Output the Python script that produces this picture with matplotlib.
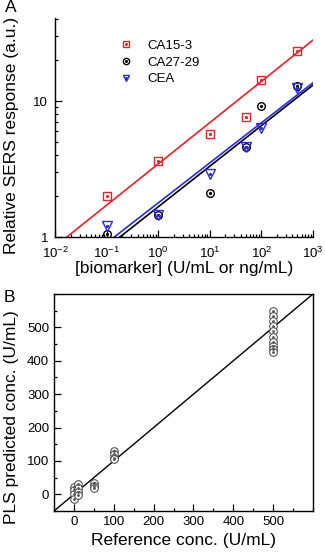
import numpy as np
import matplotlib
matplotlib.use("Agg")
import matplotlib.pyplot as plt
from matplotlib.ticker import LogLocator, MultipleLocator, NullFormatter
from matplotlib.lines import Line2D

plt.rcParams['font.family'] = ['Liberation Sans', 'DejaVu Sans']
plt.rcParams['mathtext.default'] = 'regular'

# ---- Panel A data ----
conc = [0.1, 1, 10, 50, 100, 500]
ca153 = [2.0, 3.62, 5.75, 7.67, 14.3, 23.3]
ca2729 = [1.05, 1.44, 2.1, 4.6, 9.2, 13.0]
cea = [1.21, 1.44, 2.92, 4.6, 6.36, 12.6]
# power-law fits: log10(y) = a + b*log10(x)
fit_ca153 = (0.538, 0.304)
fit_ca2729 = (0.222, 0.299)
fit_cea = (0.251, 0.295)
series_names = ['CA15-3', 'CA27-29', 'CEA']

# ---- Panel B data ----
ref_0 = [0, 0, 0, 0]
pred_0 = [23, 13, 0, -13]
ref_10 = [10, 10, 10, 10]
pred_10 = [30, 20, 8, -3]
ref_50 = [50, 50, 50]
pred_50 = [35, 25, 20]
ref_100 = [100, 100, 100, 100]
pred_100 = [130, 120, 108, 105]
ref_500 = [500] * 10
pred_500 = [548, 533, 518, 503, 488, 472, 457, 445, 435, 425]

red = '#e8202a'
blue = '#2a2ae0'
black = '#000000'

fig = plt.figure(figsize=(3.25, 5.56), dpi=100)

# ---------- Panel A ----------
axA = fig.add_axes([55/325, 1-237/556, 258/325, 219/556])
xs = np.logspace(-2, 3, 200)
colors = [red, black, blue]
markers = ['s', 'o', 'v']
datas = [ca153, ca2729, cea]
fits = [fit_ca153, fit_ca2729, fit_cea]
for c, f in zip(colors, fits):
    axA.plot(xs, 10**(f[0] + f[1]*np.log10(xs)), color=c, lw=1.2, zorder=2)
for c, m, d in zip(colors, markers, datas):
    axA.plot(conc, d, ls='none', marker=m, ms=5.5 if m != 'v' else 6.5, mfc='none',
             mec=c, mew=1.0, zorder=3)
    axA.plot(conc, d, ls='none', marker='o', ms=1.3, mfc=c, mec=c, zorder=4)

axA.set_xscale('log')
axA.set_yscale('log')
axA.set_xlim(1e-2, 1e3)
axA.set_ylim(1, 41)
axA.spines['top'].set_visible(False)
axA.spines['right'].set_visible(False)
axA.xaxis.set_major_locator(LogLocator(base=10, numticks=10))
axA.xaxis.set_minor_locator(LogLocator(base=10, subs=np.arange(2, 10), numticks=20))
axA.xaxis.set_minor_formatter(NullFormatter())
axA.set_yticks([1, 10])
axA.set_yticklabels(['1', '10'])
axA.yaxis.set_minor_locator(LogLocator(base=10, subs=np.arange(2, 10), numticks=20))
axA.yaxis.set_minor_formatter(NullFormatter())
axA.tick_params(which='both', direction='in', labelsize=9.5, width=0.9)
axA.tick_params(which='major', length=5)
axA.tick_params(which='minor', length=2.5)
axA.tick_params(axis='x', which='major', pad=6)
axA.tick_params(axis='y', which='major', pad=5)
axA.set_xlabel('[biomarker] (U/mL or ng/mL)', fontsize=12.5, labelpad=0)
axA.set_ylabel('Relative SERS response (a.u.)', fontsize=12.5)
axA.yaxis.set_label_coords(-0.14, 0.466)

handles = []
for c, m in zip(colors, markers):
    handles.append((Line2D([], [], ls='none', marker=m, ms=4.5, mfc='none', mec=c, mew=1.0),
                    Line2D([], [], ls='none', marker='o', ms=1.2, mfc=c, mec=c)))
axA.legend(handles, series_names, loc='upper left', bbox_to_anchor=(0.2, 0.955),
           frameon=False, fontsize=9.5, handletextpad=1.0, labelspacing=0.33,
           handlelength=1.2)
fig.text(11/325, 1-8/556, 'A', fontsize=12.5, ha='center', va='center')

# ---------- Panel B ----------
axB = fig.add_axes([54/325, 1-511/556, 259/325, 217/556])
axB.plot([-50, 600], [-50, 600], color='black', lw=1.0, zorder=2)
grey = '#555555'
for rx, py in [(ref_0, pred_0), (ref_10, pred_10), (ref_50, pred_50),
               (ref_100, pred_100), (ref_500, pred_500)]:
    axB.plot(rx, py, ls='none', marker='o', ms=5.5, mfc='white', mec=grey, mew=0.8, zorder=3)
    axB.plot(rx, py, ls='none', marker='o', ms=1.0, mfc=grey, mec=grey, zorder=4)
axB.set_xlim(-50, 600)
axB.set_ylim(-50, 600)
axB.xaxis.set_minor_locator(MultipleLocator(50))
axB.yaxis.set_minor_locator(MultipleLocator(50))
axB.set_xticks(range(0, 600, 100))
axB.set_yticks(range(0, 600, 100))
axB.tick_params(which='both', direction='in', labelsize=9.5, width=0.9)
axB.tick_params(which='major', length=5)
axB.tick_params(which='minor', length=2.5)
axB.set_xlabel('Reference conc. (U/mL)', fontsize=12.5, labelpad=4)
axB.set_ylabel('PLS predicted conc. (U/mL)', fontsize=12.5)
axB.yaxis.set_label_coords(-0.135, 0.433)
fig.text(9/325, 1-298/556, 'B', fontsize=12.5, ha='center', va='center')

for ax in (axA, axB):
    for s in ax.spines.values():
        s.set_linewidth(1.0)

fig.savefig('out.png', dpi=100)
